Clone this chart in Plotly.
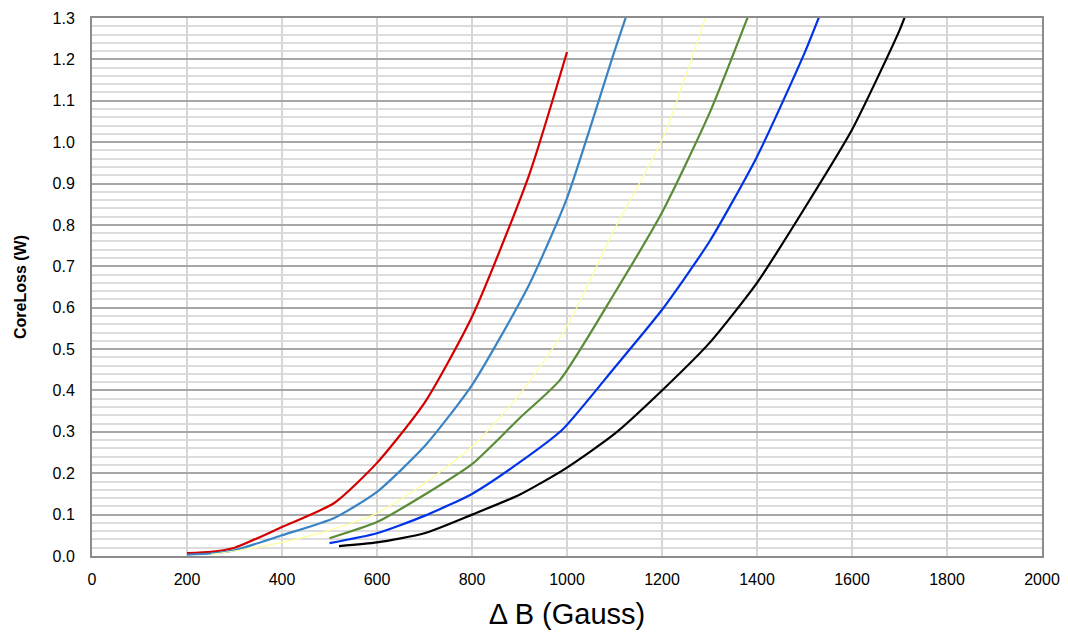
import plotly.graph_objects as go

# Data (ΔB in Gauss, core loss in W)
red_x = [200, 250, 300, 400, 510, 600, 700, 800, 920, 1000]
red_y = [0.007, 0.010, 0.020, 0.070, 0.128, 0.225, 0.370, 0.578, 0.920, 1.218]

steel_x = [200, 250, 300, 400, 510, 600, 700, 800, 920, 1000, 1100, 1135]
steel_y = [0.003, 0.006, 0.014, 0.050, 0.092, 0.155, 0.265, 0.413, 0.655, 0.865, 1.220, 1.340]

yellow_x = [250, 300, 400, 500, 600, 700, 800, 900, 1000, 1100, 1200, 1300]
yellow_y = [0.004, 0.012, 0.033, 0.062, 0.103, 0.175, 0.264, 0.390, 0.555, 0.790, 1.005, 1.330]

green_x = [500, 600, 700, 800, 900, 985, 1100, 1200, 1300, 1390]
green_y = [0.043, 0.082, 0.148, 0.222, 0.333, 0.425, 0.635, 0.830, 1.070, 1.330]

blue_x = [500, 600, 700, 800, 900, 990, 1100, 1200, 1300, 1400, 1500, 1540]
blue_y = [0.031, 0.055, 0.097, 0.150, 0.226, 0.305, 0.455, 0.595, 0.760, 0.965, 1.215, 1.330]

black_x = [520, 600, 700, 800, 900, 995, 1100, 1200, 1300, 1400, 1500, 1600, 1700, 1720]
black_y = [0.024, 0.033, 0.055, 0.100, 0.148, 0.210, 0.295, 0.400, 0.515, 0.660, 0.840, 1.030, 1.270, 1.330]

x_ticks = list(range(0, 2001, 200))
y_ticks = [round(i * 0.1, 1) for i in range(14)]

series = [
    (red_x, red_y, "#d40000", 2.2),
    (steel_x, steel_y, "#3a84c4", 2.2),
    (yellow_x, yellow_y, "#ffff99", 1.2),
    (green_x, green_y, "#5a8c38", 2.2),
    (blue_x, blue_y, "#0033e6", 2.2),
    (black_x, black_y, "#000000", 2.2),
]

fig = go.Figure()
for xs, ys, color, w in series:
    fig.add_trace(go.Scatter(x=xs, y=ys, mode="lines",
                             line=dict(color=color, width=w, shape="spline", smoothing=0.6),
                             showlegend=False, hoverinfo="x+y"))

font_family = "Liberation Sans, Arial, sans-serif"

fig.update_layout(
    width=1052, height=628,
    margin=dict(l=84, r=18, t=10, b=80, autoexpand=False),
    paper_bgcolor="white", plot_bgcolor="white",
    font=dict(family=font_family, color="#000"),
    showlegend=False,
)

fig.update_xaxes(
    range=[0, 2000], tickvals=x_ticks, ticktext=[str(v) for v in x_ticks],
    tickfont=dict(size=16, family=font_family, color="#000"),
    showgrid=True, gridcolor="#d6d6d6", gridwidth=1.5,
    zeroline=False, showline=True, linecolor="#8c8c8c", linewidth=2, mirror=True,
    ticks="", ticklabelstandoff=8, automargin=False,
    title=dict(text="Δ B (Gauss)", font=dict(size=29, family=font_family, color="#000"), standoff=16),
)

fig.update_yaxes(
    range=[0, 1.3], tickvals=y_ticks, ticktext=[f"{v:.1f}" for v in y_ticks],
    tickfont=dict(size=16, family=font_family, color="#000"),
    showgrid=True, gridcolor="#a6a6a6", gridwidth=1.5,
    minor=dict(dtick=0.02, tick0=0, showgrid=True, gridcolor="#dcdcdc", gridwidth=1.5),
    zeroline=False, showline=True, linecolor="#8c8c8c", linewidth=2, mirror=True,
    ticks="", ticklabelstandoff=12, automargin=False,
    title=dict(text="<b>CoreLoss (W)</b>", font=dict(size=16, family=font_family, color="#000"), standoff=22),
)

fig.write_html("out.html")
